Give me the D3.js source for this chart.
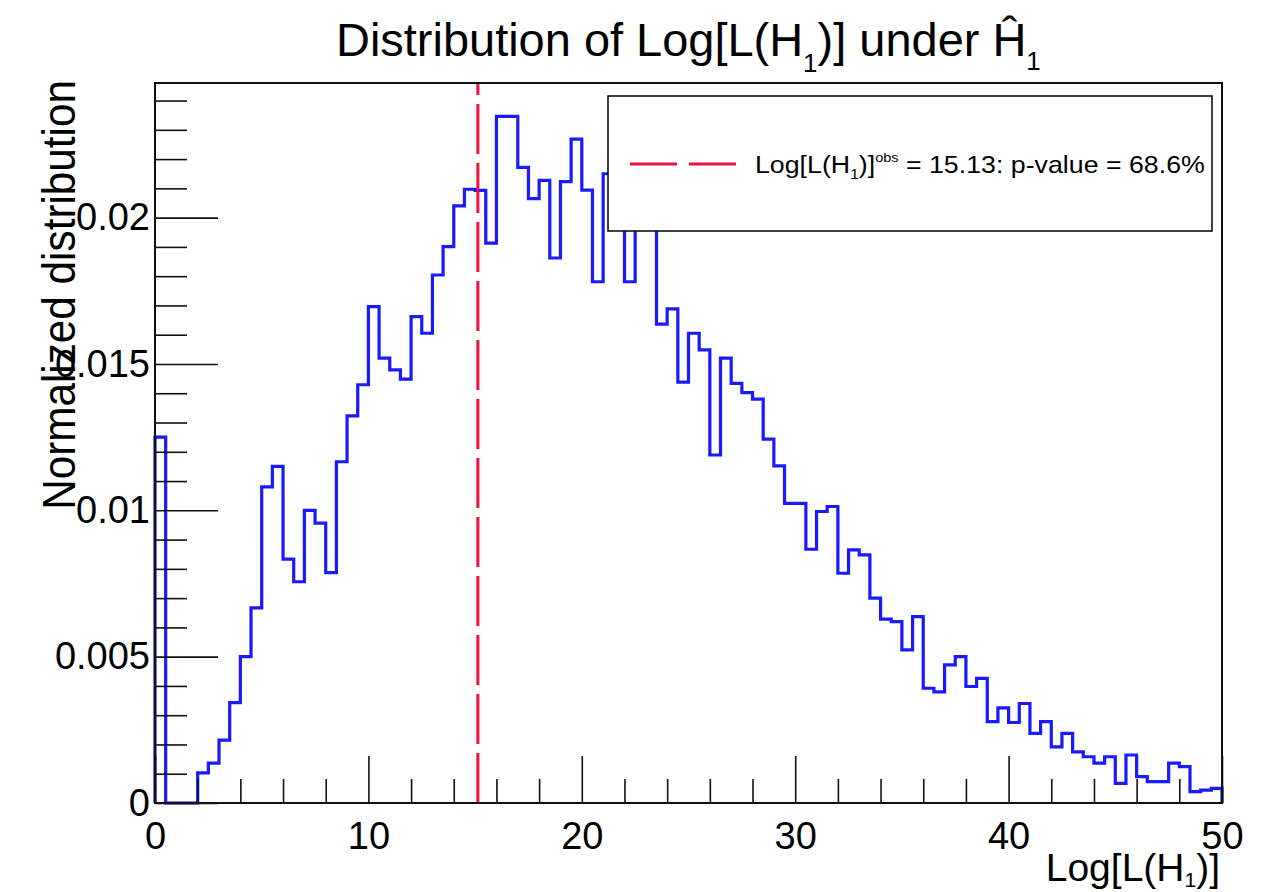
<!DOCTYPE html>
<html>
<head>
<meta charset="utf-8">
<script src="https://cdn.jsdelivr.net/npm/d3@7"></script>
<style>
  body { margin: 0; background: #fff; }
  svg { display: block; }
  text { font-family: "Liberation Sans", Arial, Helvetica, sans-serif; fill: #000; }
</style>
</head>
<body>
<svg id="chart" width="1266" height="892"></svg>
<script>
// Histogram binning: 100 bins of width 0.5 from 0 to 50
const binLow = 0;
const binHigh = 50;
const binWidth = 0.5;

// Normalized bin contents, one per bin
const binValues = [
  0.0125, 0, 0, 0, 0.00103, 0.00136, 0.00215, 0.00343, 0.0050, 0.00667,
  0.0108, 0.0115, 0.00833, 0.00756, 0.0100, 0.00956, 0.00787, 0.01166, 0.01323, 0.01429,
  0.01696, 0.0152, 0.0148, 0.01448, 0.01662, 0.01605, 0.01804, 0.01901, 0.0204, 0.02097,
  0.02093, 0.01913, 0.02346, 0.02346, 0.02172, 0.02065, 0.02127, 0.01862, 0.02123, 0.02268,
  0.02094, 0.01781, 0.0215, 0.0205, 0.01781, 0.0210, 0.0200, 0.01636, 0.01688, 0.01438,
  0.01605, 0.01548, 0.01189, 0.0152, 0.01434, 0.01402, 0.0138, 0.01243, 0.01152, 0.01024,
  0.01024, 0.00867, 0.00996, 0.01013, 0.00785, 0.00865, 0.00848, 0.0070, 0.00628, 0.0062,
  0.00523, 0.00637, 0.00392, 0.0038, 0.00472, 0.0050, 0.00398, 0.00426, 0.00278, 0.00325,
  0.00275, 0.0034, 0.00238, 0.00278, 0.00192, 0.00238, 0.00175, 0.00158, 0.00136, 0.00158,
  0.00067, 0.00164, 0.0009, 0.00073, 0.00073, 0.00136, 0.00124, 0.00039, 0.00044, 0.0005
];

// Observed statistic and its p-value
const observedValue = 15.13;
const pValueLabel = "68.6%";

// Axis ticks
const xMajorTicks = [0, 10, 20, 30, 40, 50];
const xMinorTicks = [2, 4, 6, 8, 12, 14, 16, 18, 22, 24, 26, 28, 32, 34, 36, 38, 42, 44, 46, 48];
const yMajorTicks = [0, 0.005, 0.01, 0.015, 0.02];
const yMinorTicks = [0.001, 0.002, 0.003, 0.004, 0.006, 0.007, 0.008, 0.009, 0.011, 0.012, 0.013, 0.014,
                     0.016, 0.017, 0.018, 0.019, 0.021, 0.022, 0.023, 0.024];
const yMax = 0.0246;

const frame = { left: 155, right: 1222, top: 83, bottom: 803 };
const fontFamily = '"Liberation Sans", Arial, Helvetica, sans-serif';
const histColor = "#1a1aff";
const obsColor = "#f01040";

const svg = d3.select("#chart");

const x = d3.scaleLinear().domain([binLow, binHigh]).range([frame.left, frame.right]);
const y = d3.scaleLinear().domain([0, yMax]).range([frame.bottom, frame.top]);

// Histogram outline as a step path
const pts = [[binLow, 0]];
binValues.forEach((v, i) => pts.push([binLow + i * binWidth, v]));
pts.push([binHigh, binValues[binValues.length - 1]]);
pts.push([binHigh, 0]);

const stepLine = d3.line()
  .x(d => x(d[0]))
  .y(d => y(d[1]))
  .curve(d3.curveStepAfter);

svg.append("path")
  .attr("d", stepLine(pts))
  .attr("fill", "none")
  .attr("stroke", histColor)
  .attr("stroke-width", 3.2)
  .attr("stroke-linejoin", "miter");

// Observed value line
svg.append("line")
  .attr("x1", x(observedValue)).attr("x2", x(observedValue))
  .attr("y1", y(0)).attr("y2", y(yMax))
  .attr("stroke", obsColor)
  .attr("stroke-width", 3)
  .attr("stroke-dasharray", "50,9");

// Axes with inward ticks
const yAxisMajor = d3.axisLeft(y).tickValues(yMajorTicks).tickSize(-63).tickPadding(5)
  .tickFormat(d => d === 0 ? "0" : d3.format("")(+d.toFixed(3)));
const yAxisMinor = d3.axisLeft(y).tickValues(yMinorTicks).tickSize(-32).tickFormat("");
const xAxisMajor = d3.axisBottom(x).tickValues(xMajorTicks).tickSize(-47).tickPadding(19).tickFormat(d3.format("d"));
const xAxisMinor = d3.axisBottom(x).tickValues(xMinorTicks).tickSize(-24).tickFormat("");

function styleAxis(g, fontSize) {
  g.select(".domain").remove();
  g.selectAll(".tick line").attr("stroke", "#111").attr("stroke-width", 1.6);
  g.selectAll(".tick text").attr("font-size", fontSize).attr("font-family", fontFamily).attr("fill", "#111");
}

svg.append("g").attr("transform", `translate(${frame.left},0)`).call(yAxisMinor).call(g => styleAxis(g, 38));
svg.append("g").attr("transform", `translate(${frame.left},0)`).call(yAxisMajor).call(g => styleAxis(g, 38));
svg.append("g").attr("transform", `translate(0,${frame.bottom})`).call(xAxisMinor).call(g => styleAxis(g, 38));
svg.append("g").attr("transform", `translate(0,${frame.bottom})`).call(xAxisMajor).call(g => styleAxis(g, 38));

// Frame
svg.append("rect")
  .attr("x", frame.left).attr("y", frame.top)
  .attr("width", frame.right - frame.left).attr("height", frame.bottom - frame.top)
  .attr("fill", "none").attr("stroke", "#111").attr("stroke-width", 2);

// Legend
const legend = svg.append("g");
legend.append("rect")
  .attr("x", 608).attr("y", 96).attr("width", 604).attr("height", 135)
  .attr("fill", "#fff").attr("stroke", "#111").attr("stroke-width", 1.6);
legend.append("line")
  .attr("x1", 630).attr("x2", 736).attr("y1", 164).attr("y2", 164)
  .attr("stroke", obsColor).attr("stroke-width", 3).attr("stroke-dasharray", "47,12");
const legText = legend.append("text")
  .attr("x", 755).attr("y", 173).attr("font-size", 24).attr("fill", "#222");
legText.append("tspan").text("Log[L(H");
legText.append("tspan").attr("font-size", 14).attr("dy", 6).text("1");
legText.append("tspan").attr("dy", -6).text(")]");
legText.append("tspan").attr("font-size", 13).attr("dy", -11).text("obs");
legText.append("tspan").attr("dy", 11).text(` = ${observedValue}: p-value = ${pValueLabel}`);

// Stretch a text element horizontally to span a given width from its left edge
function fitWidth(sel, targetWidth) {
  const bb = sel.node().getBBox();
  const k = targetWidth / bb.width;
  sel.attr("transform", `translate(${bb.x},0) scale(${k},1) translate(${-bb.x},0)`);
}
fitWidth(legText, 450);

// Title
const title = svg.append("text")
  .attr("x", 336).attr("y", 56).attr("font-size", 47);
title.append("tspan").text("Distribution of Log[L(H");
title.append("tspan").attr("font-size", 26).attr("dy", 16).text("1");
title.append("tspan").attr("dy", -16).text(")] under Ĥ");
title.append("tspan").attr("font-size", 26).attr("dy", 14).text("1");
fitWidth(title, 705);

// X axis title
const xTitle = svg.append("text")
  .attr("x", 1220).attr("y", 881).attr("text-anchor", "end").attr("font-size", 39);
xTitle.append("tspan").text("Log[L(H");
xTitle.append("tspan").attr("font-size", 21).attr("dy", 6).text("1");
xTitle.append("tspan").attr("dy", -6).text(")]");

// Y axis title: larger glyphs, compressed along the text to span the axis height
const yTitle = svg.append("text")
  .attr("text-anchor", "end").attr("font-size", 47)
  .text("Normalized distribution");
const yLen = yTitle.node().getComputedTextLength();
yTitle.attr("transform", `translate(75,80) rotate(-90) scale(${430 / yLen},1)`);
</script>
</body>
</html>
